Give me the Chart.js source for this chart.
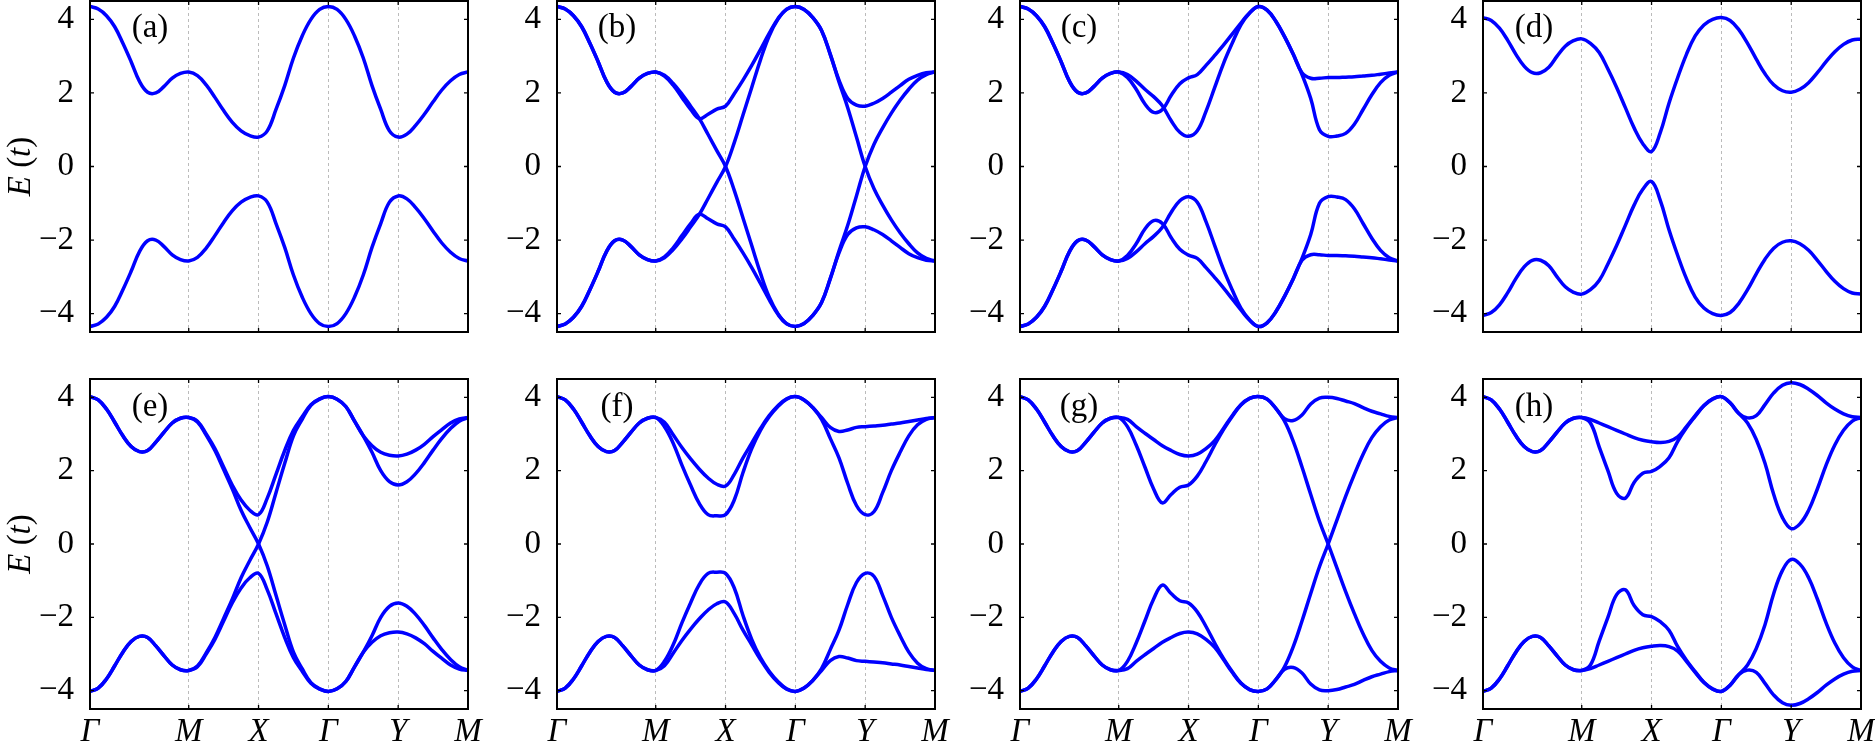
<!DOCTYPE html>
<html>
<head>
<meta charset="utf-8">
<script src="https://cdn.jsdelivr.net/npm/chart.js@4.4.1/dist/chart.umd.min.js"></script>
<style>
  html, body { margin: 0; padding: 0; background: #fff; }
  body { width: 1875px; height: 751px; position: relative; overflow: hidden; }
  canvas { position: absolute; }
</style>
</head>
<body>
<script>
// path Γ-M-X-Γ-Y-M, in units of pi (Γ-M is the diagonal, sqrt(2) long)
const kPath = [0, 0.118, 0.236, 0.354, 0.471, 0.589, 0.707, 0.825, 0.943, 1.061, 1.178, 1.296, 1.414,
  1.539, 1.664, 1.789, 1.914, 2.039, 2.164, 2.289, 2.414,
  2.539, 2.664, 2.789, 2.914, 3.039, 3.164, 3.289, 3.414,
  3.539, 3.664, 3.789, 3.914, 4.039, 4.164, 4.289, 4.414,
  4.539, 4.664, 4.789, 4.914, 5.039, 5.164, 5.289, 5.414];
const kTicks = [0, 1.414, 2.414, 3.414, 4.414, 5.414];
const kLabels = ["Γ", "M", "X", "Γ", "Y", "M"];
const eTicks = [-4, -2, 0, 2, 4];
const eLabels = ["−4", "−2", "0", "2", "4"];
const panelNames = ["(a)", "(b)", "(c)", "(d)", "(e)", "(f)", "(g)", "(h)"];

// band energies E(t), one value per kPath point
const bandA1 = [4.35,4.28,4.10,3.80,3.35,2.85,2.32,2.02,2.00,2.18,2.40,2.53,2.57, 2.47,2.22,1.88,1.52,1.20,0.97,0.84,0.80, 0.97,1.55,2.20,2.95,3.55,4.00,4.27,4.35, 4.27,4.00,3.55,2.95,2.20,1.55,0.97,0.80, 0.88,1.12,1.42,1.76,2.08,2.33,2.50,2.57];
const bandA2 = [-4.35,-4.28,-4.10,-3.80,-3.35,-2.85,-2.32,-2.02,-2.00,-2.18,-2.40,-2.53,-2.57, -2.47,-2.22,-1.88,-1.52,-1.20,-0.97,-0.84,-0.80, -0.97,-1.55,-2.20,-2.95,-3.55,-4.00,-4.27,-4.35, -4.27,-4.00,-3.55,-2.95,-2.20,-1.55,-0.97,-0.80, -0.88,-1.12,-1.42,-1.76,-2.08,-2.33,-2.50,-2.57];

const bandB1 = [4.35,4.28,4.10,3.80,3.35,2.85,2.32,2.02,2.00,2.18,2.40,2.53,2.57, 2.48,2.26,1.97,1.64,1.30,0.87,0.43,0.00, -0.65,-1.40,-2.15,-2.90,-3.55,-4.00,-4.27,-4.35, -4.27,-4.05,-3.70,-3.05,-2.30,-1.60,-0.80,0.00, 0.60,1.05,1.45,1.80,2.10,2.35,2.50,2.57];
const bandB2 = [4.35,4.28,4.10,3.80,3.35,2.85,2.32,2.02,2.00,2.18,2.40,2.53,2.57, 2.46,2.21,1.88,1.55,1.30,1.42,1.56,1.64, 1.98,2.35,2.75,3.18,3.62,4.02,4.28,4.35, 4.27,4.05,3.70,3.05,2.35,1.85,1.67,1.64, 1.72,1.85,2.02,2.20,2.37,2.48,2.55,2.57];
const bandB3 = [-4.35,-4.28,-4.10,-3.80,-3.35,-2.85,-2.32,-2.02,-2.00,-2.18,-2.40,-2.53,-2.57, -2.48,-2.26,-1.97,-1.64,-1.30,-0.87,-0.43,0.00, 0.65,1.40,2.15,2.90,3.55,4.00,4.27,4.35, 4.27,4.05,3.70,3.05,2.30,1.60,0.80,0.00, -0.60,-1.05,-1.45,-1.80,-2.10,-2.35,-2.50,-2.57];
const bandB4 = [-4.35,-4.28,-4.10,-3.80,-3.35,-2.85,-2.32,-2.02,-2.00,-2.18,-2.40,-2.53,-2.57, -2.46,-2.21,-1.88,-1.55,-1.30,-1.42,-1.56,-1.64, -1.98,-2.35,-2.75,-3.18,-3.62,-4.02,-4.28,-4.35, -4.27,-4.05,-3.70,-3.05,-2.35,-1.85,-1.67,-1.64, -1.72,-1.85,-2.02,-2.20,-2.37,-2.48,-2.55,-2.57];

const bandC1 = [4.35,4.28,4.10,3.80,3.35,2.85,2.32,2.02,2.00,2.18,2.40,2.53,2.57, 2.50,2.32,2.10,1.90,1.65,1.25,0.93,0.82, 0.97,1.50,2.15,2.80,3.35,3.85,4.17,4.35, 4.25,3.95,3.53,3.05,2.55,2.40,2.40,2.42, 2.42,2.43,2.44,2.46,2.48,2.51,2.54,2.57];
const bandC2 = [4.35,4.28,4.10,3.80,3.35,2.85,2.32,2.02,2.00,2.18,2.40,2.53,2.57, 2.42,2.10,1.70,1.47,1.55,1.93,2.25,2.41, 2.50,2.75,3.02,3.30,3.60,3.90,4.18,4.35, 4.25,3.95,3.53,3.05,2.50,1.85,1.00,0.82, 0.83,0.90,1.15,1.55,1.95,2.28,2.48,2.57];
const bandC3 = [-4.35,-4.28,-4.10,-3.80,-3.35,-2.85,-2.32,-2.02,-2.00,-2.18,-2.40,-2.53,-2.57, -2.50,-2.32,-2.10,-1.90,-1.65,-1.25,-0.93,-0.82, -0.97,-1.50,-2.15,-2.80,-3.35,-3.85,-4.17,-4.35, -4.25,-3.95,-3.53,-3.05,-2.55,-2.40,-2.40,-2.42, -2.42,-2.43,-2.44,-2.46,-2.48,-2.51,-2.54,-2.57];
const bandC4 = [-4.35,-4.28,-4.10,-3.80,-3.35,-2.85,-2.32,-2.02,-2.00,-2.18,-2.40,-2.53,-2.57, -2.42,-2.10,-1.70,-1.47,-1.55,-1.93,-2.25,-2.41, -2.50,-2.75,-3.02,-3.30,-3.60,-3.90,-4.18,-4.35, -4.25,-3.95,-3.53,-3.05,-2.50,-1.85,-1.00,-0.82, -0.83,-0.90,-1.15,-1.55,-1.95,-2.28,-2.48,-2.57];

const bandD1 = [4.05,3.97,3.76,3.43,3.05,2.73,2.55,2.55,2.70,3.00,3.27,3.42,3.47, 3.35,3.10,2.65,2.15,1.60,1.05,0.62,0.41, 0.92,1.72,2.42,3.05,3.55,3.85,4.00,4.05, 3.97,3.72,3.35,2.92,2.52,2.22,2.06,2.02, 2.10,2.28,2.55,2.85,3.12,3.32,3.44,3.47];
const bandD2 = [-4.05,-3.97,-3.76,-3.43,-3.05,-2.73,-2.55,-2.55,-2.70,-3.00,-3.27,-3.42,-3.47, -3.35,-3.10,-2.65,-2.15,-1.60,-1.05,-0.62,-0.41, -0.92,-1.72,-2.42,-3.05,-3.55,-3.85,-4.00,-4.05, -3.97,-3.72,-3.35,-2.92,-2.52,-2.22,-2.06,-2.02, -2.10,-2.28,-2.55,-2.85,-3.12,-3.32,-3.44,-3.47];

const bandE1 = [4.02,3.93,3.68,3.32,2.95,2.66,2.52,2.55,2.78,3.05,3.30,3.43,3.45, 3.35,3.00,2.60,2.10,1.60,1.20,0.92,0.80, 1.25,1.90,2.55,3.10,3.47,3.80,3.96,4.02, 3.95,3.75,3.35,2.95,2.68,2.50,2.42,2.40, 2.45,2.56,2.72,2.93,3.12,3.30,3.41,3.45];
const bandE2 = [4.02,3.93,3.68,3.32,2.95,2.66,2.52,2.55,2.78,3.05,3.30,3.43,3.45, 3.33,2.97,2.55,2.03,1.50,0.92,0.45,0.00, -0.60,-1.40,-2.20,-2.95,-3.40,-3.78,-3.95,-4.02, -3.95,-3.75,-3.35,-2.95,-2.50,-2.00,-1.70,-1.61, -1.70,-1.92,-2.22,-2.56,-2.88,-3.15,-3.35,-3.45];
const bandE3 = [-4.02,-3.93,-3.68,-3.32,-2.95,-2.66,-2.52,-2.55,-2.78,-3.05,-3.30,-3.43,-3.45, -3.35,-3.00,-2.60,-2.10,-1.60,-1.20,-0.92,-0.80, -1.25,-1.90,-2.55,-3.10,-3.47,-3.80,-3.96,-4.02, -3.95,-3.75,-3.35,-2.95,-2.68,-2.50,-2.42,-2.40, -2.45,-2.56,-2.72,-2.93,-3.12,-3.30,-3.41,-3.45];
const bandE4 = [-4.02,-3.93,-3.68,-3.32,-2.95,-2.66,-2.52,-2.55,-2.78,-3.05,-3.30,-3.43,-3.45, -3.33,-2.97,-2.55,-2.03,-1.50,-0.92,-0.45,0.00, 0.60,1.40,2.20,2.95,3.40,3.78,3.95,4.02, 3.95,3.75,3.35,2.95,2.50,2.00,1.70,1.61, 1.70,1.92,2.22,2.56,2.88,3.15,3.35,3.45];

const bandF1 = [4.02,3.93,3.68,3.32,2.95,2.66,2.52,2.55,2.78,3.05,3.30,3.43,3.45, 3.32,2.98,2.63,2.32,2.04,1.80,1.63,1.58, 1.90,2.35,2.75,3.15,3.50,3.77,3.96,4.02, 3.93,3.72,3.45,3.18,3.07,3.11,3.18,3.20, 3.22,3.24,3.27,3.30,3.34,3.38,3.42,3.45];
const bandF2 = [4.02,3.93,3.68,3.32,2.95,2.66,2.52,2.55,2.78,3.05,3.30,3.43,3.45, 3.20,2.75,2.15,1.60,1.10,0.80,0.77,0.80, 1.20,1.95,2.60,3.10,3.47,3.75,3.95,4.02, 3.93,3.72,3.40,2.88,2.35,1.65,1.05,0.80, 0.88,1.40,2.00,2.50,2.95,3.25,3.40,3.45];
const bandF3 = [-4.02,-3.93,-3.68,-3.32,-2.95,-2.66,-2.52,-2.55,-2.78,-3.05,-3.30,-3.43,-3.45, -3.32,-2.98,-2.63,-2.32,-2.04,-1.80,-1.63,-1.58, -1.90,-2.35,-2.75,-3.15,-3.50,-3.77,-3.96,-4.02, -3.93,-3.72,-3.45,-3.18,-3.07,-3.11,-3.18,-3.20, -3.22,-3.24,-3.27,-3.30,-3.34,-3.38,-3.42,-3.45];
const bandF4 = [-4.02,-3.93,-3.68,-3.32,-2.95,-2.66,-2.52,-2.55,-2.78,-3.05,-3.30,-3.43,-3.45, -3.20,-2.75,-2.15,-1.60,-1.10,-0.80,-0.77,-0.80, -1.20,-1.95,-2.60,-3.10,-3.47,-3.75,-3.95,-4.02, -3.93,-3.72,-3.40,-2.88,-2.35,-1.65,-1.05,-0.80, -0.88,-1.40,-2.00,-2.50,-2.95,-3.25,-3.40,-3.45];

const bandG1 = [4.02,3.93,3.68,3.32,2.95,2.66,2.52,2.55,2.78,3.05,3.30,3.43,3.45, 3.40,3.20,3.02,2.85,2.68,2.55,2.44,2.40, 2.45,2.60,2.82,3.15,3.50,3.80,3.97,4.02, 3.95,3.70,3.42,3.37,3.52,3.82,3.98,4.00, 3.97,3.90,3.83,3.72,3.62,3.55,3.48,3.45];
const bandG2 = [4.02,3.93,3.68,3.32,2.95,2.66,2.52,2.55,2.78,3.05,3.30,3.43,3.45, 3.20,2.70,2.10,1.50,1.12,1.35,1.55,1.61, 1.85,2.25,2.70,3.12,3.48,3.79,3.97,4.02, 3.95,3.70,3.35,2.80,2.10,1.35,0.62,0.00, -0.65,-1.30,-1.90,-2.45,-2.90,-3.20,-3.38,-3.45];
const bandG3 = [-4.02,-3.93,-3.68,-3.32,-2.95,-2.66,-2.52,-2.55,-2.78,-3.05,-3.30,-3.43,-3.45, -3.40,-3.20,-3.02,-2.85,-2.68,-2.55,-2.44,-2.40, -2.45,-2.60,-2.82,-3.15,-3.50,-3.80,-3.97,-4.02, -3.95,-3.70,-3.42,-3.37,-3.52,-3.82,-3.98,-4.00, -3.97,-3.90,-3.83,-3.72,-3.62,-3.55,-3.48,-3.45];
const bandG4 = [-4.02,-3.93,-3.68,-3.32,-2.95,-2.66,-2.52,-2.55,-2.78,-3.05,-3.30,-3.43,-3.45, -3.20,-2.70,-2.10,-1.50,-1.12,-1.35,-1.55,-1.61, -1.85,-2.25,-2.70,-3.12,-3.48,-3.79,-3.97,-4.02, -3.95,-3.70,-3.35,-2.80,-2.10,-1.35,-0.62,0.00, 0.65,1.30,1.90,2.45,2.90,3.20,3.38,3.45];

const bandH1 = [4.02,3.93,3.68,3.32,2.95,2.66,2.52,2.55,2.78,3.05,3.30,3.43,3.45, 3.40,3.30,3.20,3.10,3.00,2.90,2.83,2.79, 2.77,2.80,2.92,3.20,3.50,3.78,3.96,4.02, 3.85,3.56,3.44,3.50,3.80,4.12,4.33,4.40, 4.35,4.22,4.05,3.85,3.68,3.55,3.47,3.45];
const bandH2 = [4.02,3.93,3.68,3.32,2.95,2.66,2.52,2.55,2.78,3.05,3.30,3.43,3.45, 3.30,2.65,2.00,1.38,1.25,1.68,1.93,1.98, 2.12,2.35,2.80,3.17,3.48,3.77,3.95,4.02, 3.85,3.56,3.30,2.85,2.20,1.35,0.72,0.42, 0.55,0.92,1.50,2.15,2.70,3.10,3.35,3.45];
const bandH3 = [-4.02,-3.93,-3.68,-3.32,-2.95,-2.66,-2.52,-2.55,-2.78,-3.05,-3.30,-3.43,-3.45, -3.40,-3.30,-3.20,-3.10,-3.00,-2.90,-2.83,-2.79, -2.77,-2.80,-2.92,-3.20,-3.50,-3.78,-3.96,-4.02, -3.85,-3.56,-3.44,-3.50,-3.80,-4.12,-4.33,-4.40, -4.35,-4.22,-4.05,-3.85,-3.68,-3.55,-3.47,-3.45];
const bandH4 = [-4.02,-3.93,-3.68,-3.32,-2.95,-2.66,-2.52,-2.55,-2.78,-3.05,-3.30,-3.43,-3.45, -3.30,-2.65,-2.00,-1.38,-1.25,-1.68,-1.93,-1.98, -2.12,-2.35,-2.80,-3.17,-3.48,-3.77,-3.95,-4.02, -3.85,-3.56,-3.30,-2.85,-2.20,-1.35,-0.72,-0.42, -0.55,-0.92,-1.50,-2.15,-2.70,-3.10,-3.35,-3.45];

const panelBands = [
  [bandA1, bandA2],
  [bandB1, bandB2, bandB3, bandB4],
  [bandC1, bandC2, bandC3, bandC4],
  [bandD1, bandD2],
  [bandE1, bandE2, bandE3, bandE4],
  [bandF1, bandF2, bandF3, bandF4],
  [bandG1, bandG2, bandG3, bandG4],
  [bandH1, bandH2, bandH3, bandH4],
];

// layout of the 2x4 grid
const serif = '"Liberation Serif", "Times New Roman", serif';
const colLeft = [90, 557, 1020, 1483];
const plotW = 378;
const rowTop = [1, 379];
const plotH = [331, 330];
const labelDx = [60, 60, 59, 51];

const framePlugin = {
  id: "frame",
  afterDatasetsDraw(chart, args, opts) {
    const { ctx, chartArea: a, scales } = chart;
    ctx.save();
    ctx.strokeStyle = "#000";
    ctx.lineWidth = 1.3;
    ctx.beginPath();
    eTicks.forEach((v) => {
      const y = scales.y.getPixelForValue(v);
      ctx.moveTo(a.left, y); ctx.lineTo(a.left + 4, y);
      ctx.moveTo(a.right, y); ctx.lineTo(a.right - 4, y);
    });
    kTicks.forEach((v) => {
      const x = scales.x.getPixelForValue(v);
      ctx.moveTo(x, a.top); ctx.lineTo(x, a.top + 4);
      ctx.moveTo(x, a.bottom); ctx.lineTo(x, a.bottom - 4);
    });
    ctx.stroke();
    ctx.lineWidth = 2;
    ctx.strokeRect(a.left, a.top, a.right - a.left, a.bottom - a.top);

    ctx.fillStyle = "#000";
    ctx.font = "33px " + serif;
    ctx.textAlign = "center";
    ctx.textBaseline = "alphabetic";
    ctx.fillText(opts.label, a.left + opts.dx, a.top + opts.dy);

    if (opts.title) {
      const parts = [["E", "italic "], [" (", ""], ["t", "italic "], [")", ""]];
      ctx.translate(30, (a.top + a.bottom) / 2);
      ctx.rotate(-Math.PI / 2);
      ctx.textAlign = "left";
      let total = 0;
      parts.forEach((p) => { ctx.font = p[1] + "33px " + serif; total += ctx.measureText(p[0]).width; });
      let x = -total / 2;
      parts.forEach((p) => {
        ctx.font = p[1] + "33px " + serif;
        ctx.fillText(p[0], x, 0);
        x += ctx.measureText(p[0]).width;
      });
    }
    ctx.restore();
  },
};

const crearPanel = (idx) => {
  const col = idx % 4;
  const row = Math.floor(idx / 4);
  const padTop = row === 0 ? 1 : 9;
  const xH = row === 0 ? 8 : 42;
  const w = 90 + plotW + 30;
  const h = padTop + plotH[row] + xH;

  const cv = document.createElement("canvas");
  cv.width = w;
  cv.height = h;
  cv.style.left = (colLeft[col] - 90) + "px";
  cv.style.top = (rowTop[row] - padTop) + "px";
  cv.style.width = w + "px";
  cv.style.height = h + "px";
  document.body.appendChild(cv);

  const datasets = panelBands[idx].map((band) => ({
    data: band.map((v, i) => ({ x: kPath[i], y: v })),
    borderColor: "#0000ff",
    borderWidth: 3.5,
    pointRadius: 0,
    fill: false,
    tension: 0.4,
  }));

  new Chart(cv, {
    type: "line",
    data: { datasets },
    plugins: [framePlugin],
    options: {
      responsive: false,
      animation: false,
      layout: { padding: { left: 0, right: 30, top: padTop, bottom: 0 } },
      plugins: {
        legend: { display: false },
        tooltip: { enabled: false },
        frame: { label: panelNames[idx], dx: labelDx[col], dy: row === 0 ? 36 : 37, title: col === 0 },
      },
      scales: {
        x: {
          type: "linear",
          min: 0,
          max: 5.414,
          afterBuildTicks: (s) => { s.ticks = kTicks.map((v) => ({ value: v })); },
          afterFit: (s) => {
            s.height = xH;
            s.paddingLeft = 0;
            s.paddingRight = 0;
          },
          ticks: {
            display: row === 1,
            autoSkip: false,
            maxRotation: 0,
            padding: 4,
            color: "#000",
            font: { family: serif, size: 33, style: "italic" },
            callback: (v, i) => kLabels[i],
          },
          grid: {
            drawTicks: false,
            lineWidth: 0.9,
            color: (c) => (c.index === 0 || c.index === kTicks.length - 1) ? "rgba(0,0,0,0)" : "#b4b4b4",
          },
          border: { display: false, dash: [3, 3] },
        },
        y: {
          type: "linear",
          min: -4.5,
          max: 4.5,
          afterBuildTicks: (s) => { s.ticks = eTicks.map((v) => ({ value: v })); },
          afterFit: (s) => {
            s.width = 90;
            s.paddingTop = 0;
            s.paddingBottom = 0;
          },
          ticks: {
            padding: 8,
            color: "#000",
            font: { family: serif, size: 33 },
            callback: (v, i) => eLabels[i],
          },
          grid: { display: false },
          border: { display: false },
        },
      },
    },
  });
};

panelNames.forEach((n, i) => crearPanel(i));
</script>
</body>
</html>
